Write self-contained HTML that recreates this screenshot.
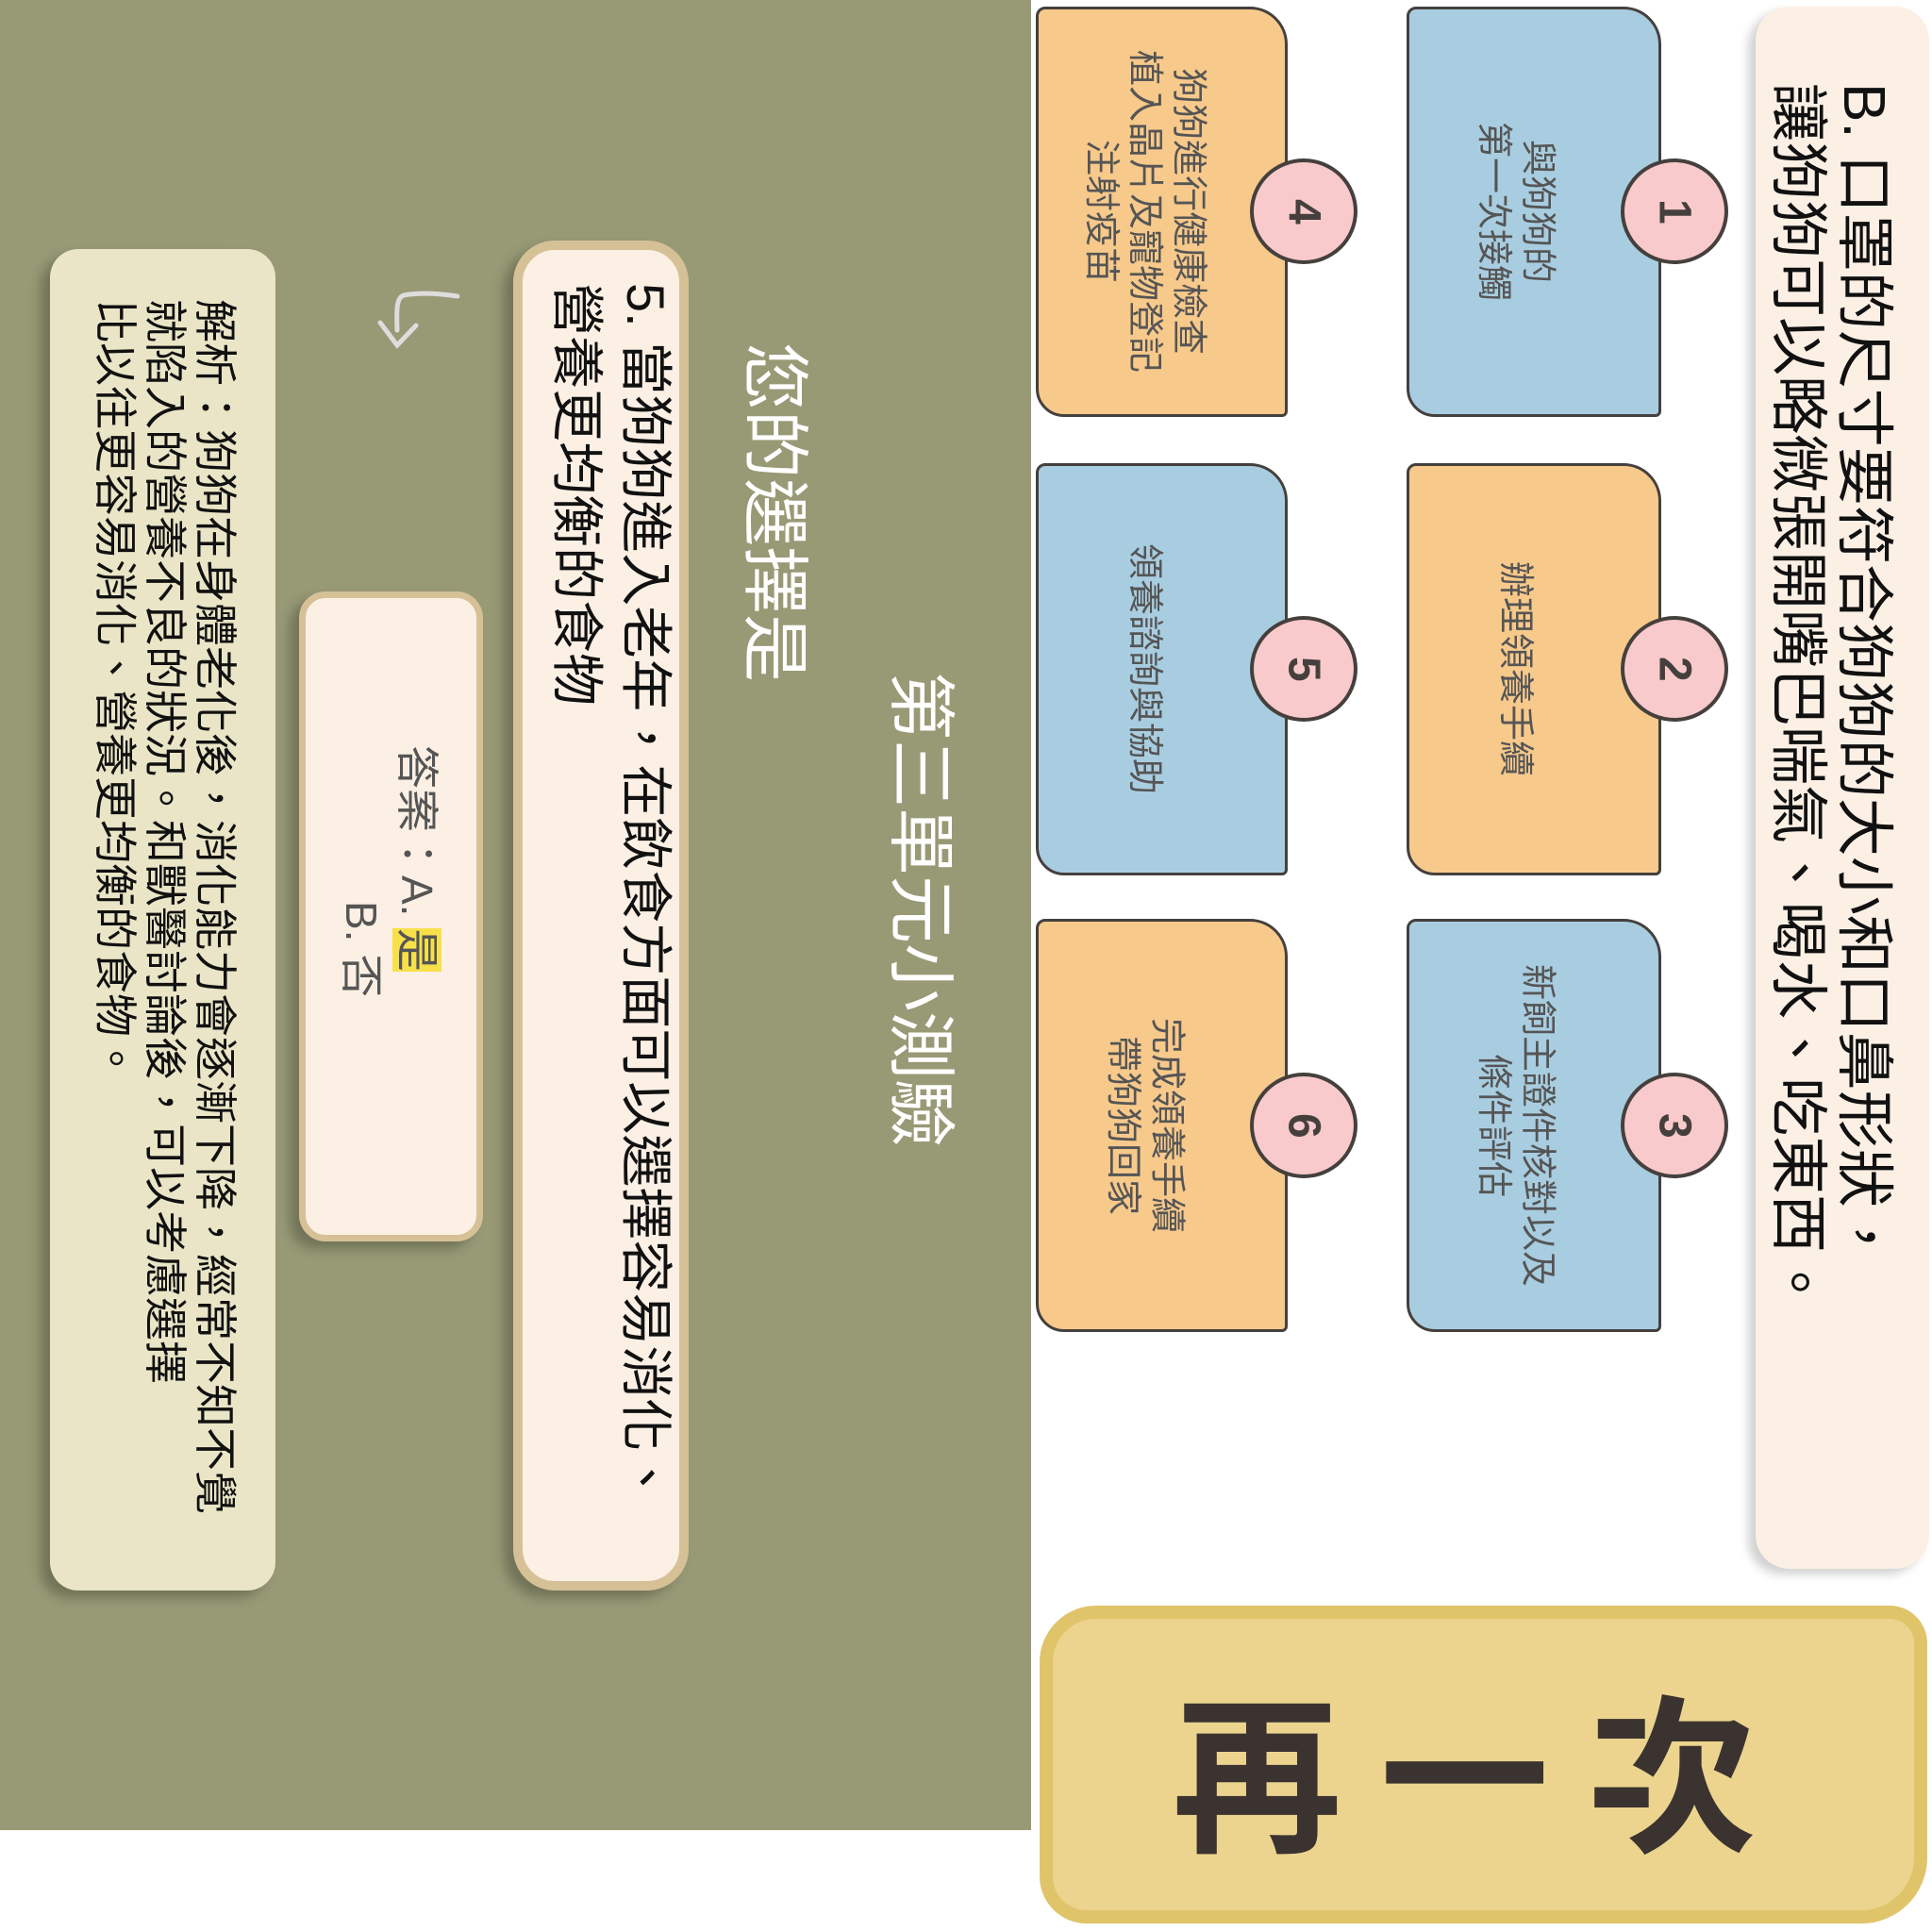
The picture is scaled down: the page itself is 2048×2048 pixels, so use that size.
<!DOCTYPE html>
<html><head><meta charset="utf-8">
<style>
*{margin:0;padding:0;box-sizing:border-box}
body{width:2048px;height:2048px;background:#fff;position:relative;overflow:hidden;font-family:"Liberation Sans","Noto Sans CJK TC",sans-serif}
.a{position:absolute}
.v{writing-mode:vertical-rl;text-orientation:sideways;white-space:nowrap}
.card{position:absolute;border:3px solid #45403d;border-radius:10px 40px 6px 30px}
.o{background:#f7c98b}.b{background:#a9cde0}
.ct{position:absolute;display:flex;align-items:center;justify-content:center;font-size:38px;color:#555;line-height:1.22;text-align:center}
.circ{position:absolute;width:114px;height:112px;border-radius:50%;background:#f9cacb;border:4px solid #45403d;display:flex;align-items:center;justify-content:center;font-size:48px;font-weight:bold;color:#45403d}
</style></head><body>
<div class="a" style="left:0;top:0;width:1093px;height:1940px;background:#989a76"></div>

<div class="a" style="left:1861px;top:7px;width:184px;height:1656px;background:#fcf0e5;border-radius:36px;box-shadow:-8px 6px 10px rgba(0,0,0,0.18)"></div>
<div class="a v" style="left:1870px;top:88px;font-size:62px;line-height:70px;color:#111">B. 口罩的尺寸要符合狗狗的大小和口鼻形狀，<br>讓狗狗可以略微張開嘴巴喘氣、喝水、吃東西。</div>

<div class="card b" style="left:1491px;top:7px;width:270px;height:435px"></div>
<div class="card o" style="left:1491px;top:491px;width:270px;height:437px"></div>
<div class="card b" style="left:1491px;top:974px;width:270px;height:438px"></div>
<div class="card o" style="left:1098px;top:7px;width:267px;height:435px"></div>
<div class="card b" style="left:1098px;top:491px;width:267px;height:437px"></div>
<div class="card o" style="left:1098px;top:974px;width:267px;height:438px"></div>

<div class="ct v" style="left:1491px;top:7px;width:230px;height:435px">與狗狗的<br>第一次接觸</div>
<div class="ct v" style="left:1491px;top:491px;width:230px;height:437px">辦理領養手續</div>
<div class="ct v" style="left:1491px;top:974px;width:230px;height:438px">新飼主證件核對以及<br>條件評估</div>
<div class="ct v" style="left:1098px;top:7px;width:230px;height:435px">狗狗進行健康檢查<br>植入晶片及寵物登記<br>注射疫苗</div>
<div class="ct v" style="left:1098px;top:491px;width:230px;height:437px">領養諮詢與協助</div>
<div class="ct v" style="left:1098px;top:974px;width:230px;height:438px">完成領養手續<br>帶狗狗回家</div>

<div class="circ v" style="left:1718px;top:168px">1</div>
<div class="circ v" style="left:1718px;top:653px">2</div>
<div class="circ v" style="left:1718px;top:1137px">3</div>
<div class="circ v" style="left:1325px;top:168px">4</div>
<div class="circ v" style="left:1325px;top:653px">5</div>
<div class="circ v" style="left:1325px;top:1137px">6</div>

<div class="a v" style="left:935px;top:712px;font-size:72px;line-height:80px;color:#fff">第三單元小測驗</div>
<div class="a v" style="left:780px;top:363px;font-size:72px;line-height:80px;color:#fff">您的選擇是</div>

<div class="a" style="left:544px;top:255px;width:186px;height:1431px;background:#fcf0e5;border:10px solid #d6c197;border-radius:44px;box-shadow:-10px 8px 12px rgba(0,0,0,0.25)"></div>
<div class="a v" style="left:575px;top:300px;font-size:56px;line-height:73px;color:#111">5. 當狗狗進入老年，在飲食方面可以選擇容易消化、<br>營養更均衡的食物</div>

<svg class="a" style="left:395px;top:300px" width="100" height="80" viewBox="0 0 100 80"><path d="M90 14 C70 11 50 10 33 13 C26 15 25 25 26 50 M8 42 L26 66 L46 45" fill="none" stroke="#ddd" stroke-width="5" stroke-linecap="round"/></svg>

<div class="a" style="left:317px;top:627px;width:195px;height:689px;background:#fcf0e5;border:7px solid #d6c197;border-radius:28px;box-shadow:-10px 8px 12px rgba(0,0,0,0.25)"></div>
<div class="a v" style="left:416px;top:790px;font-size:46px;line-height:52px;color:#555">答案：A. <span style="background:#f7e14a;color:#555">是</span></div>
<div class="a v" style="left:357px;top:955px;font-size:46px;line-height:52px;color:#555">B. 否</div>

<div class="a" style="left:53px;top:264px;width:239px;height:1422px;background:#e9e5c6;border-radius:30px;box-shadow:-10px 8px 12px rgba(0,0,0,0.25)"></div>
<div class="a v" style="left:95px;top:317px;font-size:46px;line-height:53px;color:#111">解析：狗狗在身體老化後，消化能力會逐漸下降，經常不知不覺<br>就陷入的營養不良的狀況。和獸醫討論後，可以考慮選擇<br>比以往更容易消化、營養更均衡的食物。</div>

<div class="a" style="left:1102px;top:1702px;width:941px;height:337px;background:#ecd48e;border:14px solid #e0c46a;border-radius:60px 40px 70px 50px"></div>
<div class="a" style="left:1102px;top:1702px;width:941px;height:337px;display:flex;align-items:center;justify-content:center;font-size:180px;font-weight:bold;color:#3a3330;letter-spacing:40px;font-family:'Noto Sans CJK TC',sans-serif">再一次</div>
</body></html>
